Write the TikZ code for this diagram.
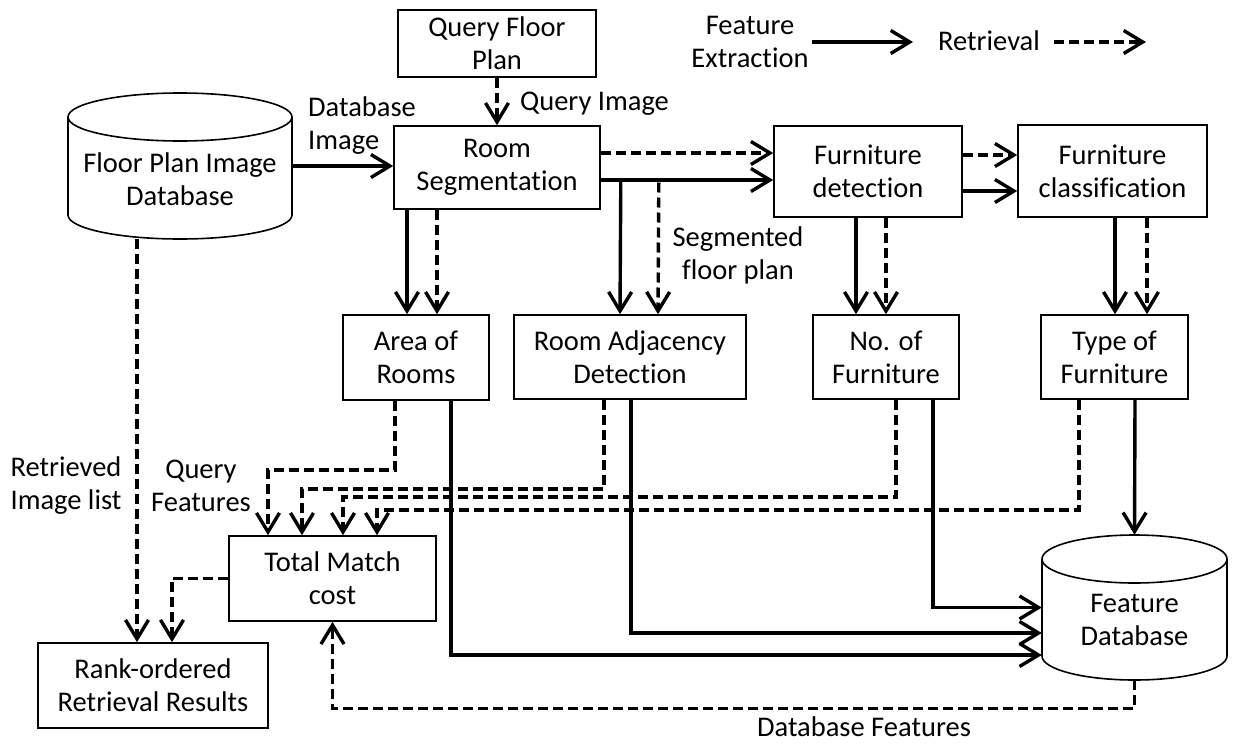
\documentclass[tikz,border=0pt]{standalone}
\usepackage{fontspec}
\setmainfont{Carlito}[Ligatures={NoCommon,NoRare}]
\usetikzlibrary{arrows.meta,calc}
\begin{document}
\begin{tikzpicture}[x=1pt,y=-1pt,
  every node/.style={font=\fontsize{28.5pt}{33pt}\selectfont, inner sep=0pt, align=center},
  box/.style={draw, line width=1.6pt, fill=white},
  sol/.style={line width=3.4pt, -{Straight Barb[length=19pt,width=23pt]}},
  dsh/.style={sol, dash pattern=on 10pt off 5pt},
  cyl/.style={line width=1.6pt, fill=white},
]
\useasboundingbox (0,0) rectangle (1236,744);

% cylinders
\draw[cyl] (68,117) -- (68,215) arc[start angle=180, end angle=360, x radius=112pt, y radius=24pt] -- (292,117);
\draw[cyl] (180,117) ellipse [x radius=112pt, y radius=24pt];
\node[minimum width=224pt, minimum height=146pt] (fpdb) at (180,166) {};
\node (fpdbt) at (180,179) {Floor Plan Image\\Database};

\draw[cyl] (1042,559) -- (1042,656) arc[start angle=180, end angle=360, x radius=92.5pt, y radius=24pt] -- (1227,559);
\draw[cyl] (1134.5,559) ellipse [x radius=92.5pt, y radius=24pt];
\node[minimum width=185pt, minimum height=145pt] (fdb) at (1134.5,607.5) {};
\node (fdbt) at (1134.5,620) {Feature\\Database};

% boxes
\node[box, minimum width=198pt, minimum height=67pt] (qfp) at (497,43.5) {Query Floor\\Plan};
\node[box, minimum width=206pt, minimum height=83pt] (rs) at (497,167.5) {Room\\Segmentation};
\node[box, minimum width=188pt, minimum height=91pt] (fd) at (868,171.5) {Furniture\\detection};
\node[box, minimum width=189pt, minimum height=92pt] (fc) at (1112.5,171) {Furniture\\classification};
\node[box, minimum width=146pt, minimum height=85pt] (area) at (416,357.5) {Area of\\Rooms};
\node[box, minimum width=232pt, minimum height=84pt] (adj) at (630,357) {Room Adjacency\\Detection};
\node[box, minimum width=146pt, minimum height=84pt] (nof) at (886,357) {No. of\\Furniture};
\node[box, minimum width=147pt, minimum height=84pt] (tof) at (1114.5,357) {Type of\\Furniture};
\node[box, minimum width=207pt, minimum height=85pt] (tmc) at (332.5,578.5) {Total Match\\cost};
\node[box, minimum width=230pt, minimum height=85pt] (rank) at (153,685.5) {Rank-ordered\\Retrieval Results};

% labels
\node[anchor=west, align=left] (ldbi) at (308,126) {Database\\Image};
\node (lqi) at (594.5,104) {Query Image};
\node (lsfp) at (738,255) {Segmented\\floor plan};
\node (lril) at (66,486) {Retrieved\\Image list};
\node (lqf) at (201,486) {Query\\Features};
\node (ldf) at (864,727) {Database Features};

% legend
\node (lfe) at (750,42) {Feature\\Extraction};
\node (lret) at (989,41) {Retrieval};
\coordinate (lg1) at (913,42);
\coordinate (lg2) at (1146,42);
\draw[sol] (812,42) -- (lg1);
\draw[dsh] (1054,42) -- (lg2);

% top connectors
\draw[dsh] (qfp.south) -- (rs.north);
\draw[sol] (fpdb.east) -- (fpdb.east -| rs.west);
\draw[dsh] ([yshift=14.5pt]rs.east) -- ([yshift=14.5pt]rs.east -| fd.west);
\draw[sol] ([yshift=-12.5pt]rs.east) -- ([yshift=-12.5pt]rs.east -| fd.west);
\draw[dsh] ([yshift=16.5pt]fd.east) -- ([yshift=16.5pt]fd.east -| fc.west);
\draw[sol] ([yshift=-19.5pt]fd.east) -- ([yshift=-19.5pt]fd.east -| fc.west);

% down to feature boxes
\draw[sol] ([xshift=-90pt]rs.south) -- ([xshift=-9pt]area.north);
\draw[dsh] ([xshift=-60pt]rs.south) -- ([xshift=21pt]area.north);
\draw[sol] ([xshift=20pt,yshift=-12.5pt]rs.east) -- ([xshift=-10pt]adj.north);
\draw[dsh] ([xshift=58pt,yshift=-15pt]rs.east) -- ([xshift=28pt]adj.north);
\draw[sol] ([xshift=-12pt]fd.south) -- ([xshift=-30pt]nof.north);
\draw[dsh] ([xshift=18pt]fd.south) -- (nof.north);
\draw[sol] ([xshift=2.5pt]fc.south) -- ([xshift=0.5pt]tof.north);
\draw[dsh] ([xshift=34.5pt]fc.south) -- ([xshift=32.5pt]tof.north);

% to feature database
\draw[sol] ([xshift=20.5pt]tof.south) -- (fdb.north);
\draw[sol] ([xshift=47pt]nof.south) |- (fdb.west);
\draw[sol] ([xshift=1pt]adj.south) |- ([yshift=-25.5pt]fdb.west);
\draw[sol] ([xshift=35pt]area.south) |- ([yshift=-47.5pt]fdb.west);

% query features to total match cost
\draw[dsh] ([xshift=-21pt]area.south) -- ++(0,69) -| ([xshift=-64.5pt]tmc.north);
\draw[dsh] ([xshift=-26pt]adj.south) -- ++(0,89) -| ([xshift=-30.5pt]tmc.north);
\draw[dsh] ([xshift=10pt]nof.south) -- ++(0,97) -| ([xshift=10.5pt]tmc.north);
\draw[dsh] ([xshift=-35.5pt]tof.south) -- ++(0,110) -| ([xshift=44.5pt]tmc.north);

% retrieval results
\draw[dsh] (tmc.west) -| ([xshift=19pt]rank.north);
\draw[dsh] ([xshift=-43pt]fpdb.south) -- ([xshift=-16pt]rank.north);
\draw[dsh] (fdb.south) -- ++(0,28.5) -| (tmc.south);
\end{tikzpicture}
\end{document}
